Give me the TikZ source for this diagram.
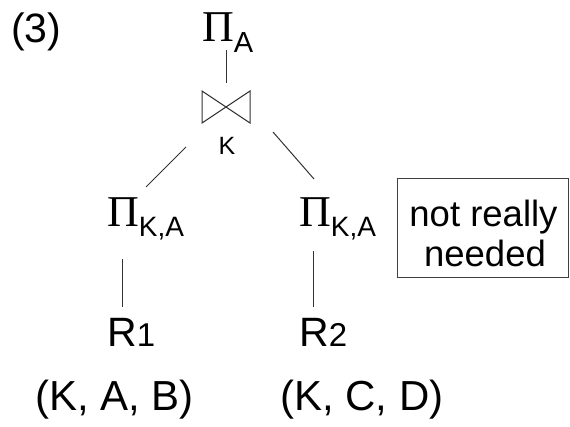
\documentclass[tikz,border=0pt]{standalone}
\usepackage{fontspec}
\setmainfont{Liberation Sans}
\newfontfamily\pifont{Liberation Serif}
\newcommand\setfs[1]{\fontsize{#1}{#1}\selectfont}
\begin{document}
\begin{tikzpicture}[x=1pt,y=-1pt,
  txt/.style={inner sep=0pt, anchor=base west},
  ctxt/.style={inner sep=0pt, anchor=base},
  ln/.style={line width=1pt, black!80}]
\useasboundingbox (0,0) rectangle (570,427);
% label
\node[txt] (num) at (11,43) {\setfs{41}(3)};
% top projection
\node[txt] (piA) at (202,42) {{\pifont\setfs{44}Π}\raisebox{-11pt}{\setfs{29}A}};
% join symbol
\coordinate (join) at (226,107);
\draw[ln] (202,91) -- (250,123) -- (250,91) -- (202,123) -- cycle;
\node[ctxt] (K) at (227,155) {\setfs{25}K};
% projections
\node[txt] (piL) at (107,227) {{\pifont\setfs{44}Π}\raisebox{-10pt}{\setfs{28}K,A}};
\node[txt] (piR) at (299,227) {{\pifont\setfs{44}Π}\raisebox{-10pt}{\setfs{28}K,A}};
% relations
\node[txt] (R1) at (107,347) {\setfs{41}R{\setfs{33}1}};
\node[txt] (R2) at (299,347) {\setfs{41}R{\setfs{33}2}};
\node[txt] (attL) at (35,410) {\setfs{42}(K, A, B)};
\node[txt] (attR) at (280,410) {\setfs{42}(K, C, D)};
% note box
\node[draw=black!75, line width=1pt, minimum width=171pt, minimum height=99pt, inner sep=0pt] (note) at (482.5,228.5) {};
\node[ctxt] (note1) at (483.5,227) {\setfs{36.5}not really};
\node[ctxt] (note2) at (485,267) {\setfs{36.5}needed};
% connectors
\coordinate (a1) at (226,50);  \coordinate (a2) at (226,83);
\coordinate (b1) at (186,147); \coordinate (b2) at (146,187);
\coordinate (c1) at (273,132); \coordinate (c2) at (314,179);
\coordinate (d1) at (122,259); \coordinate (d2) at (122,307);
\coordinate (e1) at (313,251); \coordinate (e2) at (313,307);
\draw[ln] (a1) -- (a2);
\draw[ln] (b1) -- (b2);
\draw[ln] (c1) -- (c2);
\draw[ln] (d1) -- (d2);
\draw[ln] (e1) -- (e2);
\end{tikzpicture}
\end{document}
